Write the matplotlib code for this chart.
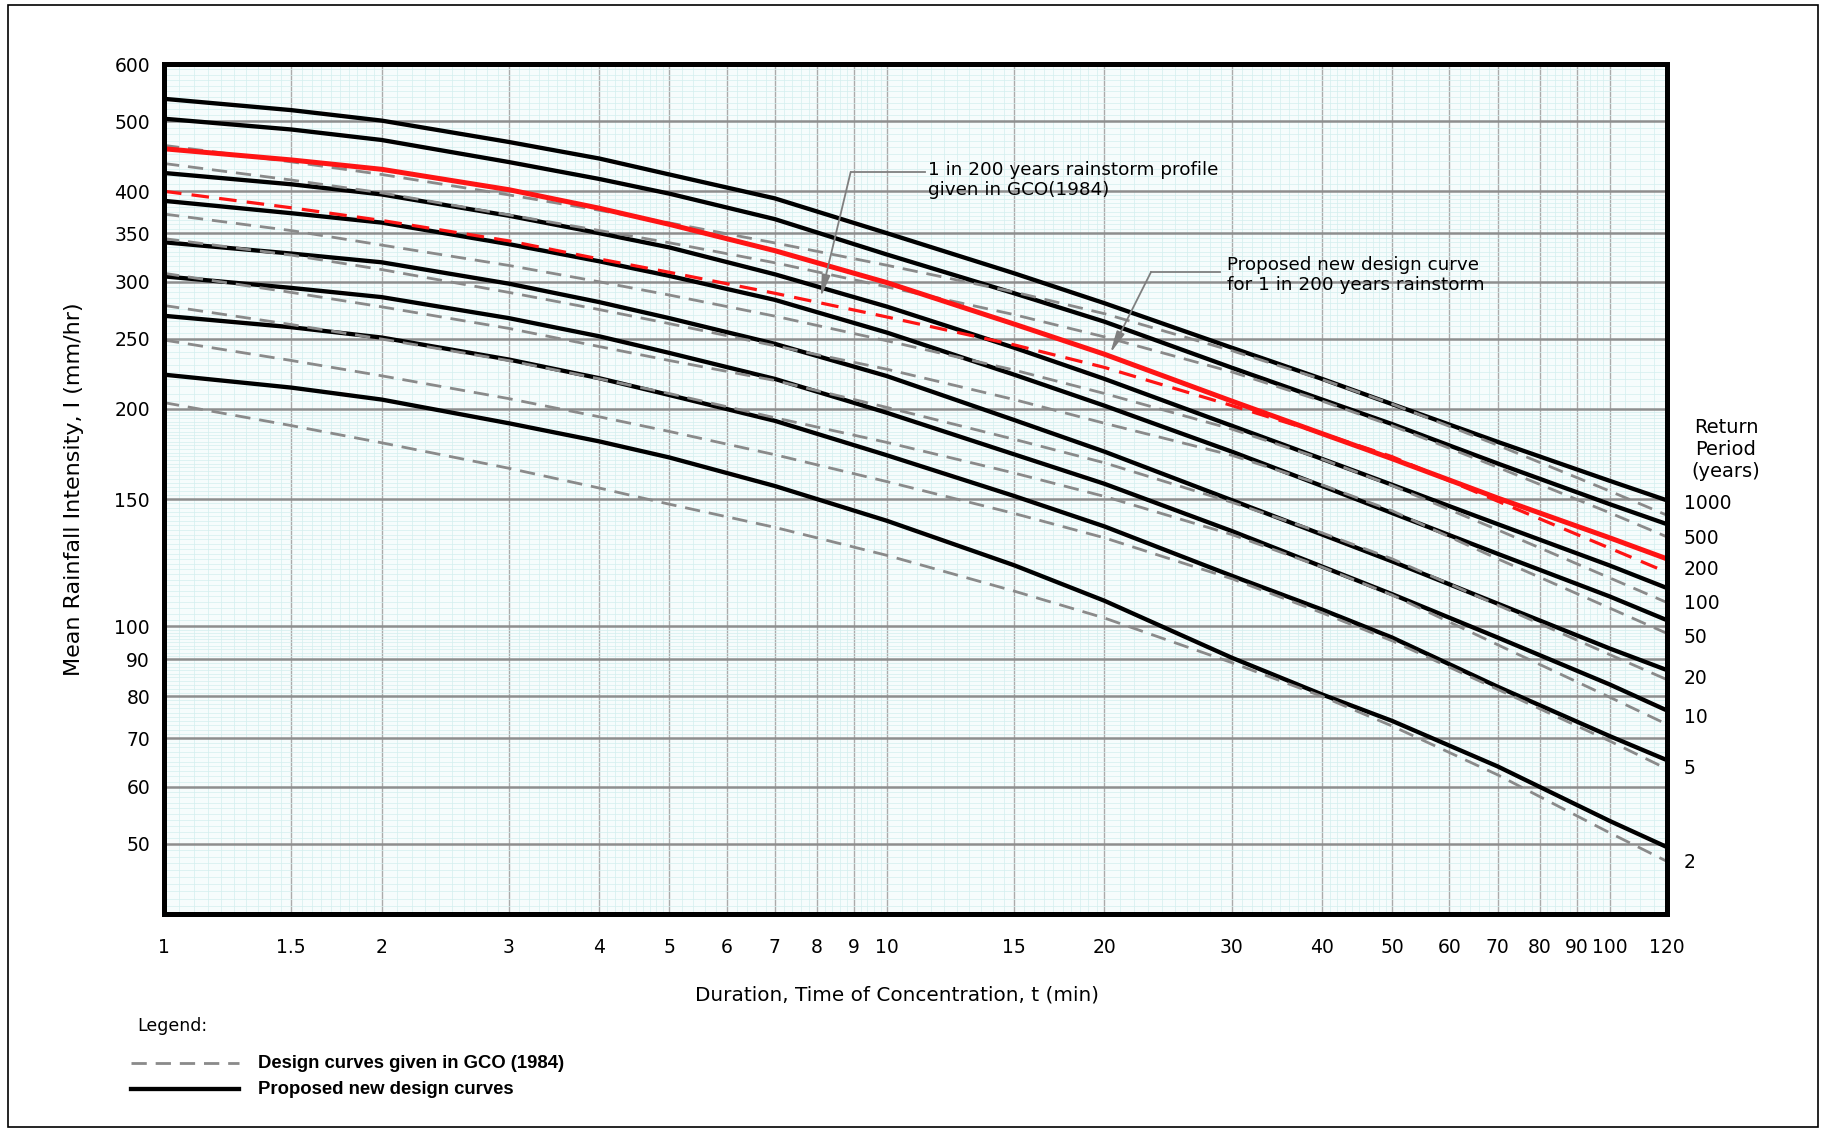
import numpy as np
import matplotlib.pyplot as plt
import matplotlib.transforms as mtransforms
from matplotlib.lines import Line2D
from matplotlib.patches import Rectangle
from matplotlib.ticker import NullFormatter

plt.rcParams['font.family'] = ['DejaVu Sans']

durations = [1, 1.5, 2, 3, 4, 5, 7, 10, 15, 20, 30, 40, 50, 70, 100, 120]
return_periods = [1000, 500, 200, 100, 50, 20, 10, 5, 2]

# proposed new design curves (mm/hr)
new_1000 = [537, 518, 501, 468, 444, 422, 391, 350, 308, 280, 243, 220, 203, 180, 159, 149.4]
new_500 = [504, 487, 471, 439, 416, 397, 366, 327, 289, 264, 228, 206, 190.5, 168, 147.6, 138.5]
new_200 = [458, 442, 429, 402, 379, 360, 331, 299, 262, 238, 205, 184.8, 170.6, 150.5, 132.6, 124]
new_100 = [424, 409, 396, 370, 350, 334.5, 307, 277, 243, 220, 189.5, 170.5, 157, 138.5, 121.4, 113]
new_50 = [388, 373, 362, 338, 320, 305.5, 283, 255, 223, 202, 174.5, 156.4, 143.5, 126, 110, 102]
new_20 = [340, 328, 319, 298, 281, 267, 246, 222, 193, 174.5, 149.5, 134, 123, 107.5, 93.2, 87]
new_10 = [305, 294, 285.5, 267, 252, 239, 220, 197.5, 173, 157.5, 135.5, 121, 110.8, 96.5, 83.1, 76.5]
new_5 = [269, 259.4, 251, 234, 220.5, 209, 192.5, 172.5, 151.5, 137.5, 117.5, 105.5, 96.5, 82.5, 70.5, 65.3]
new_2 = [223, 214, 206, 191, 180.3, 171.3, 156.4, 140, 121.5, 108.5, 90.5, 80.5, 74, 64, 53.8, 49.5]

# design curves given in GCO (1984) (mm/hr)
old_1000 = [463, 439.3, 422, 395.4, 376.5, 361.7, 339.3, 316, 290.2, 270.8, 240.7, 219.6, 203.1, 178.1, 153.9, 142.5]
old_500 = [437, 414.6, 398, 371, 353, 339.5, 318.5, 295, 270, 251.5, 225, 205, 189.5, 166, 143.6, 133]
old_200 = [400, 379.5, 364.5, 341.5, 322.4, 309, 289, 268, 245.2, 228.2, 202.1, 184.9, 171.7, 149, 128.3, 118.8]
old_100 = [372, 352.9, 337, 315.8, 299.8, 287.4, 268.7, 248.4, 226.3, 210, 187.5, 170.4, 156.6, 136, 116.7, 107.9]
old_50 = [344, 326.4, 311.7, 289.8, 274.4, 262.4, 244.5, 226.9, 206, 191, 172.5, 157, 144.5, 124, 106, 97.8]
old_20 = [308, 289.8, 276.8, 258.4, 243.9, 233.3, 218.9, 200.9, 181.5, 168.4, 148.5, 134.7, 124, 107, 91.4, 84.4]
old_10 = [278, 261.6, 249.8, 233.2, 220.1, 210, 194.4, 179.7, 163, 151.3, 134, 120.8, 110.5, 94.3, 79.8, 73.2]
old_5 = [249, 233.3, 222.2, 206.6, 195, 186.1, 172.8, 158.6, 143.3, 132.6, 116.4, 104.4, 95.5, 81.8, 69.4, 63.5]
old_2 = [204, 189.6, 179.5, 165.5, 155.4, 147.6, 137.1, 125.4, 111.9, 102.7, 89.1, 80, 72.8, 62.3, 51.8, 47.3]

new_curves = [new_1000, new_500, new_200, new_100, new_50, new_20, new_10, new_5, new_2]
old_curves = [old_1000, old_500, old_200, old_100, old_50, old_20, old_10, old_5, old_2]

x_ticks = [1, 1.5, 2, 3, 4, 5, 6, 7, 8, 9, 10, 15, 20, 30, 40, 50, 60, 70, 80, 90, 100, 120]
y_ticks = [50, 60, 70, 80, 90, 100, 150, 200, 250, 300, 350, 400, 500, 600]

# where the return period labels sit on the right
period_label_y = [147.7, 132.5, 120, 107.7, 96.4, 84.7, 74.7, 63.5, 47.2]

W, H = 1825, 1133
fig = plt.figure(figsize=(W / 100, H / 100), dpi=100)


def fx(px):
    return px / W


def fy(py):
    return 1 - py / H


ax = fig.add_axes([fx(164), fy(914), (1667 - 164) / W, (914 - 64) / H])
ax.set_xscale('log')
ax.set_yscale('log')
ax.set_xlim(1, 120)
ax.set_ylim(40, 600)
ax.set_facecolor('#f6fcfc')

# fine graph-paper grid
def fine(start, stop, step):
    return np.arange(start, stop + step / 2, step)

x_minor = np.concatenate([fine(1, 2, 0.05), fine(2, 5, 0.1), fine(5, 10, 0.2), fine(10, 20, 0.5),
                          fine(20, 50, 1), fine(50, 100, 2), fine(100, 120, 5)])
y_minor = np.concatenate([fine(40, 100, 1), fine(100, 200, 2), fine(200, 400, 5), fine(400, 600, 10)])
x_minor = [v for v in np.unique(np.round(x_minor, 3)) if min(abs(v - m) for m in x_ticks) > 1e-6]
y_minor = [v for v in np.unique(np.round(y_minor, 3)) if min(abs(v - m) for m in y_ticks) > 1e-6]

ax.set_xticks(x_ticks)
ax.set_xticklabels([f'{v:g}' for v in x_ticks])
ax.set_yticks(y_ticks)
ax.set_yticklabels([f'{v:g}' for v in y_ticks])
ax.set_xticks(x_minor, minor=True)
ax.set_yticks(y_minor, minor=True)
ax.xaxis.set_minor_formatter(NullFormatter())
ax.yaxis.set_minor_formatter(NullFormatter())

ax.set_axisbelow(True)
ax.grid(which='minor', color='#d3eeee', lw=0.5)
ax.xaxis.grid(True, which='major', color='#ababab', lw=1.0)
ax.yaxis.grid(True, which='major', color='#8e8e8e', lw=1.8)
ax.tick_params(which='both', length=0)
ax.tick_params(axis='x', pad=17, labelsize=13.5)
ax.tick_params(axis='y', pad=10, labelsize=13.5)

for s in ax.spines.values():
    s.set_linewidth(3.6)
    s.set_color('black')
    s.set_zorder(7)

red = '#ff1414'
grey = '#8a8a8a'
dash = (0, (5.5, 3.2))

for rp, vals in zip(return_periods, new_curves):
    if rp == 200:
        ax.plot(durations, vals, color=red, lw=3.6, zorder=5.5, solid_joinstyle='round')
    else:
        ax.plot(durations, vals, color='black', lw=3.1, zorder=3, solid_joinstyle='round')

for rp, vals in zip(return_periods, old_curves):
    if rp == 200:
        ax.plot(durations, vals, color=red, lw=2.3, ls=dash, zorder=6)
    else:
        ax.plot(durations, vals, color=grey, lw=2.0, ls=dash, zorder=5)

# return period labels
trans = mtransforms.blended_transform_factory(ax.transAxes, ax.transData)
for rp, yv in zip(return_periods, period_label_y):
    ax.text(1.011, yv, str(rp), transform=trans, ha='left', va='center', fontsize=13.5, clip_on=False)
fig.text(fx(1726), fy(449), 'Return\nPeriod\n(years)', ha='center', va='center',
         fontsize=14, linespacing=1.2)

# callouts
ann_grey = '#7f7f7f'
arrow = dict(arrowstyle='-|>,head_length=1.3,head_width=0.25', color=ann_grey, lw=1.3,
             shrinkA=0, shrinkB=0)
ax.text(11.4, 414.6, '1 in 200 years rainstorm profile\ngiven in GCO(1984)', fontsize=13.2,
        ha='left', va='center', linespacing=1.2, zorder=8)
ax.plot([8.91, 11.29], [425.2, 425.2], color=ann_grey, lw=1.3, zorder=8)
ax.annotate('', xy=(8.10, 285.4), xytext=(8.91, 425.2), arrowprops=arrow, zorder=8)

ax.text(29.56, 306.4, 'Proposed new design curve\nfor 1 in 200 years rainstorm', fontsize=13.2,
        ha='left', va='center', linespacing=1.2, zorder=8)
ax.plot([23.2, 28.9], [309.4, 309.4], color=ann_grey, lw=1.3, zorder=8)
ax.annotate('', xy=(20.37, 238.8), xytext=(23.2, 309.4), arrowprops=arrow, zorder=8)

ax.set_ylabel('Mean Rainfall Intensity, I (mm/hr)', fontsize=16)
ax.yaxis.set_label_coords(-0.0532, 0.5)
ax.set_xlabel('Duration, Time of Concentration, t (min)', fontsize=14.4)
ax.xaxis.set_label_coords(0.4877, -0.0847)

# legend drawn below the chart
fig.text(fx(137), fy(1026), 'Legend:', fontsize=12.5, ha='left', va='center')
fig.add_artist(Line2D([fx(131), fx(239)], [fy(1063), fy(1063)], color=grey, lw=2.0, ls=dash))
fig.add_artist(Line2D([fx(131), fx(239)], [fy(1089), fy(1089)], color='black', lw=3.1))
fig.text(fx(258), fy(1063), 'Design curves given in GCO (1984)', family=['Liberation Sans', 'DejaVu Sans'],
         fontweight='bold', fontsize=13.3, ha='left', va='center')
fig.text(fx(258), fy(1089), 'Proposed new design curves', family=['Liberation Sans', 'DejaVu Sans'],
         fontweight='bold', fontsize=13.3, ha='left', va='center')

fig.add_artist(Rectangle((fx(8), fy(1127)), fx(1818) - fx(8), fy(5) - fy(1127),
                         transform=fig.transFigure, fill=False, ec='black', lw=1.2))

fig.savefig('out.png', dpi=100)
